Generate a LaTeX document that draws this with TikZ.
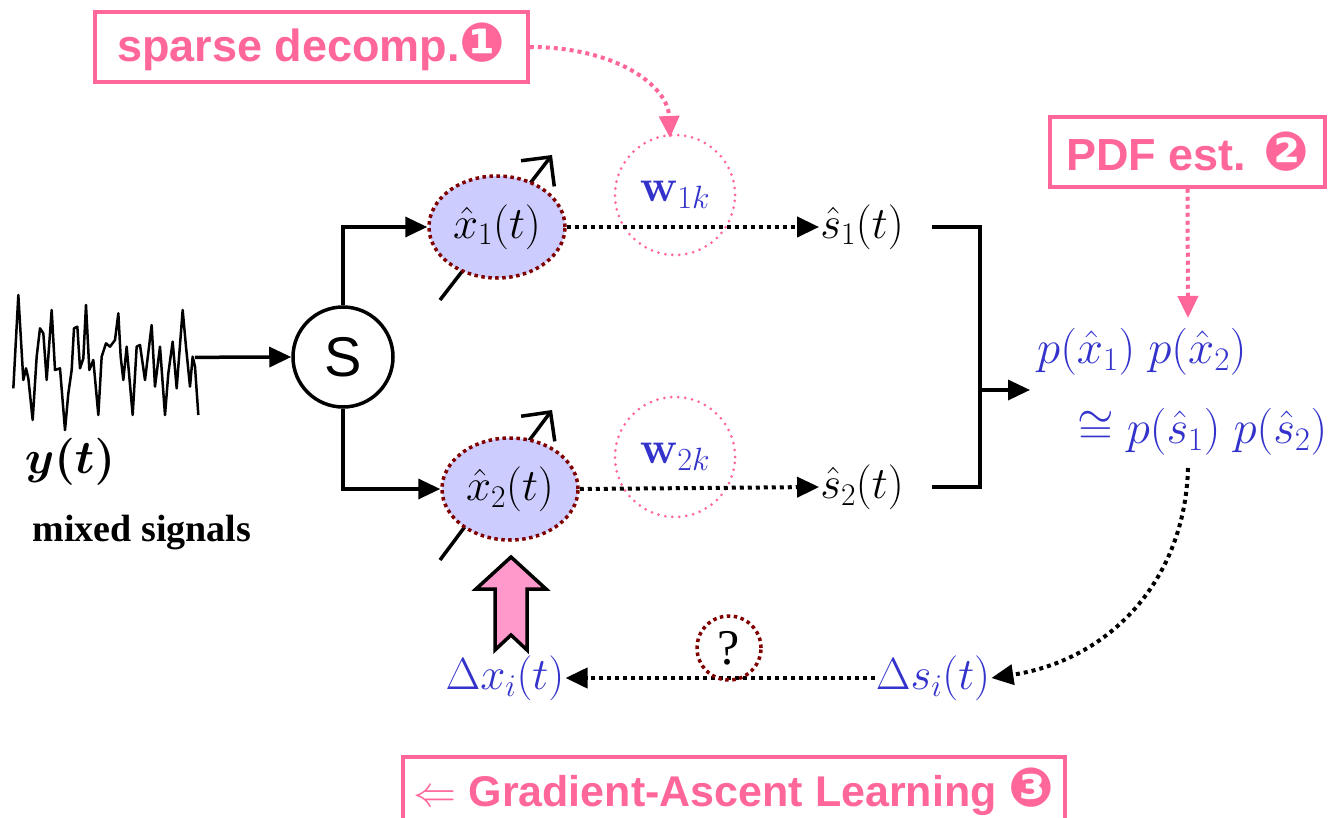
\RequirePackage{fix-cm}
\documentclass[tikz,border=0pt]{standalone}
\usepackage{bm}
\usepackage[no-math]{fontspec}
\setmainfont{Liberation Serif}
\newfontfamily\labsans{Liberation Sans}
\newfontfamily\dingfont{DejaVu Sans}
\usetikzlibrary{arrows.meta,shapes.geometric}
\definecolor{pk}{HTML}{FF6699}
\definecolor{lav}{HTML}{CCCCFF}
\definecolor{dr}{HTML}{800000}
\definecolor{bl}{HTML}{3333CC}
\definecolor{pkfill}{HTML}{FF99CC}
\newcommand{\dg}[1]{{\dingfont\fontsize{54}{56}\selectfont #1}}
\begin{document}
\begin{tikzpicture}[x=1pt,y=-1pt,
  pinkbox/.style={draw=pk, line width=3.5pt, text=pk, inner sep=0pt,
     font=\labsans\bfseries\fontsize{45}{50}\selectfont},
  mt/.style={inner sep=1pt, font=\fontsize{45}{50}\selectfont},
  bmt/.style={mt, text=bl},
  ell/.style={ellipse, fill=lav, draw=dr, line width=3.5pt, dash pattern=on 3.5pt off 3.5pt,
     minimum width=136pt, minimum height=102pt, inner sep=0pt, font=\fontsize{45}{50}\selectfont},
  wcirc/.style={circle, draw=pk, line width=3pt, line cap=round, dash pattern=on 0pt off 7pt,
     minimum size=120pt, inner sep=0pt, text=bl, font=\fontsize{46}{50}\selectfont},
  thk/.style={line width=3.5pt},
  tip/.style={-{Triangle[length=22pt,width=20pt]}},
  dotblk/.style={line width=4pt, dash pattern=on 4pt off 4pt},
  dotpk/.style={draw=pk, line width=4pt, dash pattern=on 4pt off 4pt},
  barb/.style={line width=3.5pt, -{Straight Barb[length=21pt,width=42pt]}},
]
\useasboundingbox (0,0) rectangle (1340,818);
\clip (0,0) rectangle (1340,818);

% top label box
\node[pinkbox, minimum width=433pt, minimum height=70pt] (sd) at (311.5,47)
  {sparse decomp.\dg{❶}};
% PDF label box
\node[pinkbox, minimum width=275pt, minimum height=70pt] (pdf) at (1187.5,152)
  {PDF est. \dg{❷}};
% bottom label box
\node[pinkbox, anchor=north, minimum width=662pt, text height=47pt, text depth=40pt, inner ysep=3pt,
  font=\labsans\bfseries\fontsize{43}{48}\selectfont] (gal) at (734,755)
  {$\Leftarrow$ Gradient-Ascent Learning \dg{❸}};

% mixed signal waveform
\begin{scope}[shift={(0,280)}, x=1/3pt, y=-1/3pt]
\draw[line width=2.5pt, line join=round] (40,325)--(55,45)--(70,300)--(78,265)--(85,295)--(98,420)--(110,230)--(120,145)--(130,160)--(140,300)--(155,90)--(165,270)--(180,265)--(195,450)--(205,340)--(215,270)--(222,145)--(232,140)--(240,265)--(250,235)--(258,75)--(268,270)--(280,240)--(295,405)--(305,230)--(318,190)--(330,200)--(345,180)--(355,100)--(362,230)--(370,300)--(380,200)--(398,405)--(410,200)--(420,195)--(435,300)--(455,135)--(465,320)--(480,200)--(495,405)--(505,280)--(518,185)--(530,325)--(548,90)--(558,200)--(570,320)--(578,230)--(585,260)--(595,405);
\coordinate (wv) at (585,232);
\end{scope}

\node[font=\fontsize{47}{50}\selectfont, inner sep=0pt] (yt) at (70,462) {$\bm{y(t)}$};
\node[font=\bfseries\fontsize{38}{42}\selectfont, inner sep=0pt] (ms) at (142,533) {mixed signals};

% S node
\node[circle, draw, line width=3.5pt, minimum size=100pt, inner sep=0pt,
  font=\labsans\fontsize{56}{60}\selectfont] (S) at (343,357) {S};
\draw[thk,tip] (wv) -- (S.west);

% variable-weight slashes (behind ellipses)
\coordinate (d1a) at (440,300); \coordinate (d1b) at (552,155);
\coordinate (d2a) at (440,560); \coordinate (d2b) at (552,410);
\draw[barb] (d1a) -- (d1b);
\draw[barb] (d2a) -- (d2b);

% ellipses
\node[ell] (x1) at (497,227) {$\hat{x}_1(t)$};
\node[ell] (x2) at (510,489) {$\hat{x}_2(t)$};

\draw[thk,tip] (S.north) |- (x1.west);
\draw[thk,tip] (S.south) |- (x2.west);

% weight circles
\node[wcirc] (w1) at (675,195) {$\mathbf{w}_{1k}$};
\node[wcirc] (w2) at (675,457) {$\mathbf{w}_{2k}$};

% outputs
\node[mt] (s1) at (862,227) {$\hat{s}_1(t)$};
\node[mt] (s2) at (862,487) {$\hat{s}_2(t)$};
\draw[dotblk,tip] (x1.east) -- (s1.west);
\draw[dotblk,tip] (x2.east) -- (s2.west);

% joining bracket
\coordinate (b1) at (932,227); \coordinate (jt) at (980,227);
\coordinate (b2) at (932,487); \coordinate (jb) at (980,487);
\coordinate (jm) at (980,390); \coordinate (pin) at (1030,390);
\draw[thk] (b1) -- (jt) -- (jb) -- (b2);
\draw[thk,tip] (jm) -- (pin);

% pdf expressions
\node[bmt, anchor=west, font=\fontsize{47}{50}\selectfont] (px) at (1036,352) {$p(\hat{x}_1)\;p(\hat{x}_2)$};
\node[bmt, anchor=west, font=\fontsize{47}{50}\selectfont] (ps) at (1076,432) {$\cong p(\hat{s}_1)\;p(\hat{s}_2)$};
\coordinate (pdfin) at (1188,318);
\draw[dotpk, -{Triangle[length=22pt,width=20pt]}, pk] (pdf.south) -- (pdfin);

% sparse decomp arrow
\coordinate (w1in) at (670,138);
\draw[dotpk, pk, -{Triangle[length=22pt,width=20pt]}] (sd.east) .. controls (615,47) and (668,85) .. (w1in);

% feedback
\node[bmt] (ds) at (933,678) {$\Delta s_i(t)$};
\node[bmt] (dx) at (505,678) {$\Delta x_i(t)$};
\coordinate (cst) at (1188,468);
\draw[dotblk,tip] (cst) .. controls (1185,580) and (1110,660) .. (ds.east);
\draw[dotblk,tip] (ds.west) -- (dx.east);

\node[circle, draw=dr, line width=3.5pt, dash pattern=on 3.5pt off 3.5pt, minimum size=64pt,
  inner sep=0pt, font=\fontsize{50}{54}\selectfont] (q) at (729,648) {?};

% pink block arrow
\draw[fill=pkfill, line width=3.5pt, line join=miter]
  (511,557) -- (546,589) -- (527,589) -- (527,650) -- (511,635) -- (495,650) -- (495,589) -- (476,589) -- cycle;
\end{tikzpicture}
\end{document}
